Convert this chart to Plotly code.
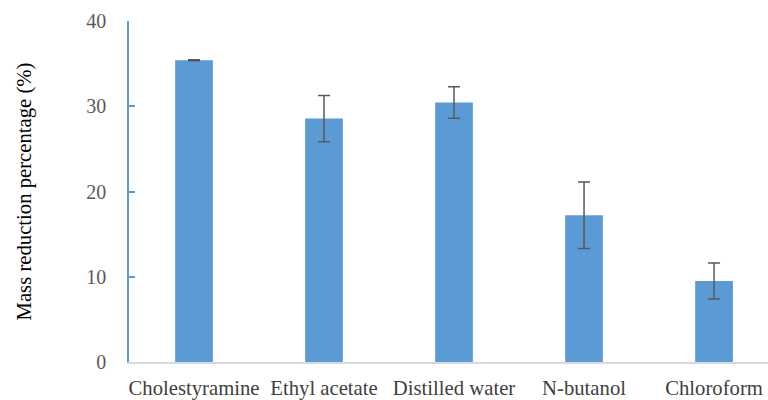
import plotly.graph_objects as go

categories = ["Cholestyramine", "Ethyl acetate", "Distilled water", "N-butanol", "Chloroform"]
values = [35.4, 28.55, 30.45, 17.2, 9.5]
errors = [0.05, 2.7, 1.85, 3.9, 2.1]
y_ticks = [0, 10, 20, 30, 40]

fig = go.Figure()
fig.add_trace(go.Bar(
    x=categories, y=values,
    marker=dict(color="#5B9BD5", line=dict(width=0)),
    width=0.29,
    error_y=dict(type="data", array=errors, visible=True, color="#595959", thickness=1.5, width=6),
))

fig.update_layout(
    width=768, height=400,
    margin=dict(l=129, r=0, t=21, b=34),
    plot_bgcolor="white", paper_bgcolor="white",
    showlegend=False,
    font=dict(family="Liberation Serif", size=20, color="#595959"),
)
fig.update_xaxes(
    range=[-0.5, 4.415],
    showline=True, linecolor="#D9D9D9", linewidth=1.5,
    ticks="", showgrid=False,
    tickfont=dict(family="Liberation Serif", size=20.7, color="#404040"),
    ticklabelstandoff=6,
)
fig.update_yaxes(
    range=[0, 40], tickvals=y_ticks,
    showline=True, linecolor="#5B9BD5", linewidth=1.5,
    ticks="inside", ticklen=6, tickcolor="#5B9BD5", tickwidth=1.5,
    showgrid=False, zeroline=False,
    tickfont=dict(family="Liberation Serif", size=20, color="#595959"),
    ticklabelstandoff=17,
    title=dict(text="Mass reduction percentage (%)", font=dict(family="Liberation Serif", size=20.7, color="black"), standoff=49),
)

fig.write_html(
    "out.html",
    config={"displayModeBar": False},
    post_script="document.body.style.margin='0';document.body.style.overflow='hidden';",
)
